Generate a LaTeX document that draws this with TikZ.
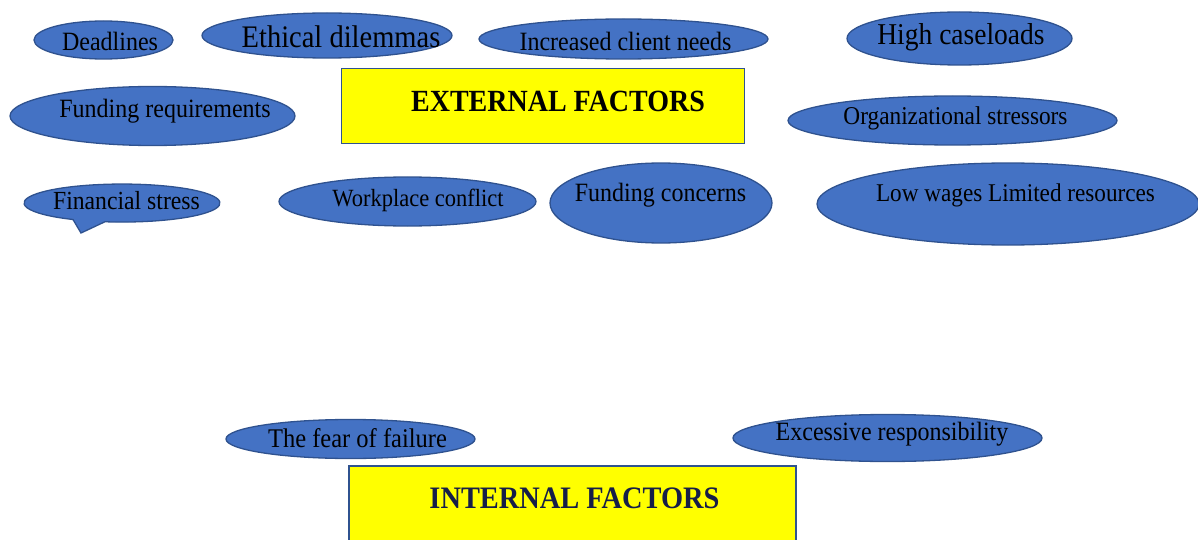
\documentclass[tikz,border=0pt]{standalone}
\usepackage{fontspec}
\usepackage{graphicx}
\setmainfont{Liberation Serif}
\usetikzlibrary{shapes.geometric}
\definecolor{ellfill}{RGB}{68,114,196}
\definecolor{ellline}{RGB}{47,82,143}
\definecolor{boxfill}{RGB}{255,255,0}
\definecolor{navytext}{RGB}{22,30,72}
\newcommand{\tall}[1]{\scalebox{1}[1.1]{#1}}
\tikzset{
  oval/.style={ellipse, fill=ellfill, draw=ellline, line width=1.3pt, inner sep=0pt},
  lbl/.style={inner sep=0pt, text=black, font=\fontsize{24}{28}\selectfont},
  factorbox/.style={rectangle, fill=boxfill, draw=ellline, line width=1.5pt, inner sep=0pt},
  boxlbl/.style={inner sep=0pt, font=\bfseries\fontsize{28}{32}\selectfont}
}
\begin{document}
\begin{tikzpicture}[x=1pt,y=-1pt]
\useasboundingbox (0,0) rectangle (1198,540);

% external factors box
\node[factorbox, minimum width=403pt, minimum height=75pt] (extbox) at (543,106) {};
\node[boxlbl, text=black] (extlbl) at (558,101) {\tall{EXTERNAL FACTORS}};

% top row
\node[oval, minimum width=139pt, minimum height=38pt] (deadl) at (103.5,40) {};
\node[lbl] (deadlT) at (110,41) {\tall{Deadlines}};
\node[oval, minimum width=250pt, minimum height=45pt] (ethic) at (327,35.5) {};
\node[lbl, font=\fontsize{28.5}{32}\selectfont] (ethicT) at (341,37) {\tall{Ethical dilemmas}};
\node[oval, minimum width=289pt, minimum height=40pt] (incr) at (623.5,39) {};
\node[lbl] (incrT) at (625.5,41) {\tall{Increased client needs}};
\node[oval, minimum width=225pt, minimum height=53pt] (high) at (959.5,38.5) {};
\node[lbl, font=\fontsize{27.5}{32}\selectfont] (highT) at (961,37) {\tall{High caseloads}};

% second row
\node[oval, minimum width=285pt, minimum height=59pt] (fundreq) at (152.5,116) {};
\node[lbl] (fundreqT) at (165,111) {\tall{Funding requirements}};
\node[oval, minimum width=329pt, minimum height=49pt] (org) at (952.5,120.5) {};
\node[lbl, font=\fontsize{23.3}{28}\selectfont] (orgT) at (955.5,118) {\tall{Organizational stressors}};

% third row
\path[fill=ellfill, draw=ellline, line width=1.3pt]
  (73,219.5) arc[start angle=120, end angle=460, x radius=98, y radius=19]
  -- (81,233) -- cycle;
\coordinate (fin) at (122,203);
\node[lbl, font=\fontsize{23.7}{28}\selectfont] (finT) at (126.5,201) {\tall{Financial stress}};
\node[oval, minimum width=257pt, minimum height=49pt] (work) at (407.5,201.5) {};
\node[lbl, font=\fontsize{22.5}{28}\selectfont] (workT) at (418,200) {\tall{Workplace conflict}};
\node[oval, minimum width=222pt, minimum height=80pt] (fundcon) at (661,203) {};
\node[lbl] (fundconT) at (660.5,195) {\tall{Funding concerns}};
\node[oval, minimum width=382pt, minimum height=82pt] (low) at (1008,204) {};
\node[lbl, font=\fontsize{23.2}{28}\selectfont] (lowT) at (1015.5,195) {\tall{Low wages Limited resources}};

% internal
\node[oval, minimum width=249pt, minimum height=39pt] (fear) at (350.5,439) {};
\node[lbl, font=\fontsize{24.5}{28}\selectfont] (fearT) at (357.5,438) {\tall{The fear of failure}};
\node[oval, minimum width=309pt, minimum height=47pt] (exc) at (887.5,438) {};
\node[lbl] (excT) at (892,434) {\tall{Excessive responsibility}};

\node[factorbox, minimum width=447pt, minimum height=110pt] (intbox) at (572.5,521) {};
\node[boxlbl, text=navytext, font=\bfseries\fontsize{28.4}{32}\selectfont] (intlbl) at (574.5,498) {\tall{INTERNAL FACTORS}};
\end{tikzpicture}
\end{document}
